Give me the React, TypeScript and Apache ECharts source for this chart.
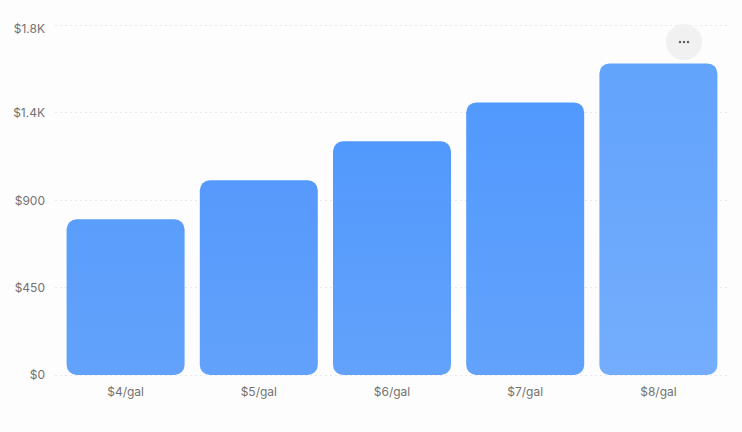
import React, { useEffect, useRef } from "react";
import * as echarts from "echarts";

const categories = ["$4/gal", "$5/gal", "$6/gal", "$7/gal", "$8/gal"];
const values = [800, 1000, 1200, 1400, 1600];
const yLabels: Record<number, string> = { 0: "$0", 450: "$450", 900: "$900", 1350: "$1.4K", 1800: "$1.8K" };
const topColors = ["#5A9DFB", "#5699FC", "#5299FD", "#5299FE", "#62A3FC"];
const bottomColors = ["#62A2FB", "#62A2FB", "#62A2FB", "#62A2FB", "#74ADFC"];

const font = "Inter, 'Noto Sans', sans-serif";
const labelColor = "#727272";

export default function App() {
  const ref = useRef<HTMLDivElement>(null);
  useEffect(() => {
    document.body.style.margin = "0";
    document.body.style.background = "#FDFDFD";
    const chart = echarts.init(ref.current!, undefined, { renderer: "svg" });
    chart.setOption({
      animation: false,
      backgroundColor: "#FDFDFD",
      grid: [
        { left: 55, right: 12, top: 25, bottom: 57 },
        { left: 59, right: 17, top: 24.5, bottom: 57 },
      ],
      xAxis: [
        { gridIndex: 0, type: "category", data: categories, show: false },
        {
          gridIndex: 1,
          type: "category",
          data: categories,
          axisLine: { show: false },
          axisTick: { show: false },
          axisLabel: { color: labelColor, fontSize: 12, fontFamily: font, margin: 10 },
        },
      ],
      yAxis: [
        {
          gridIndex: 0,
          type: "value",
          min: 0,
          max: 1800,
          interval: 450,
          axisLine: { show: false },
          axisTick: { show: false },
          axisLabel: {
            color: labelColor,
            fontSize: 12,
            fontFamily: font,
            margin: 10,
            verticalAlign: "middle",
            formatter: (v: number) => {
              const text = yLabels[v] ?? String(v);
              if (v === 1800) return `{top|${text}}`;
              if (v === 0) return `{bottom|${text}}`;
              return text;
            },
            rich: {
              top: { color: labelColor, fontSize: 12, fontFamily: font, padding: [6, 0, 0, 0] },
              bottom: { color: labelColor, fontSize: 12, fontFamily: font, padding: [0, 0, 2, 0] },
            },
          },
          splitLine: { show: true, lineStyle: { color: "#E8E8E8", type: [2, 3], width: 1 } },
        },
        { gridIndex: 1, type: "value", min: 0, max: 1800, interval: 450, show: false },
      ],
      series: [
        {
          type: "bar",
          xAxisIndex: 1,
          yAxisIndex: 1,
          barWidth: 118,
          data: values.map((v, i) => ({
            value: v,
            itemStyle: {
              borderRadius: 10,
              color: new echarts.graphic.LinearGradient(0, 0, 0, 1, [
                { offset: 0, color: topColors[i] },
                { offset: 1, color: bottomColors[i] },
              ]),
            },
          })),
        },
      ],
      graphic: [
        { type: "circle", shape: { cx: 684, cy: 42, r: 18 }, style: { fill: "#F1F1F1" }, z: 10 },
        { type: "circle", shape: { cx: 680, cy: 42, r: 1.2 }, style: { fill: "#555" }, z: 11 },
        { type: "circle", shape: { cx: 684, cy: 42, r: 1.2 }, style: { fill: "#555" }, z: 11 },
        { type: "circle", shape: { cx: 688, cy: 42, r: 1.2 }, style: { fill: "#555" }, z: 11 },
      ],
    });
    return () => chart.dispose();
  }, []);
  return <div ref={ref} style={{ width: 742, height: 432 }} />;
}
